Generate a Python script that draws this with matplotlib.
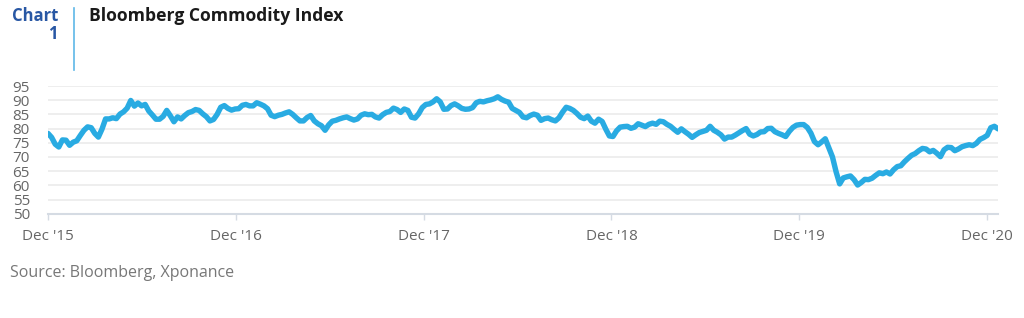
import numpy as np
import pandas as pd
import matplotlib
matplotlib.use("Agg")
import matplotlib.pyplot as plt
import matplotlib.dates as mdates

# weekly index levels, starting end of Dec 2015
start_date = "2015-12-31"
values_2016 = [78.3, 76.9, 74.5, 73.5, 76.0, 75.9, 74.1, 75.2, 75.7, 77.6,
               79.4, 80.6, 80.3, 78.3, 77.0, 79.8, 83.4, 83.4, 83.8, 83.5,
               85.1, 85.9, 87.2, 89.9, 87.9, 89.0, 88.0, 88.5, 86.2, 84.8,
               83.3, 83.3, 84.3, 86.4, 84.5, 82.4, 84.1, 83.4, 84.6, 85.6,
               86.0, 86.7, 86.4, 85.2, 84.2, 82.7, 83.2, 85.0, 87.5, 88.1,
               87.1, 86.5]
values_2017 = [86.9, 87.0, 88.2, 88.5, 88.0, 88.0, 89.1, 88.6, 88.0, 87.0,
               84.7, 84.2, 84.7, 85.0, 85.5, 85.9, 85.0, 83.8, 82.7, 82.7,
               83.9, 84.6, 82.7, 81.7, 81.0, 79.4, 81.3, 82.6, 82.9, 83.4,
               83.8, 84.1, 83.5, 83.0, 83.4, 84.7, 85.2, 84.9, 85.0, 84.1,
               83.7, 84.9, 85.7, 86.0, 87.2, 86.7, 85.7, 86.9, 86.4, 84.0,
               83.7, 85.2]
values_2018 = [87.4, 88.5, 88.7, 89.4, 90.5, 89.4, 86.8, 86.9, 88.1, 88.7,
               88.0, 87.1, 86.8, 86.9, 87.4, 89.1, 89.6, 89.4, 89.8, 90.1,
               90.5, 91.2, 90.3, 89.7, 89.3, 87.1, 86.4, 85.7, 84.1, 83.8,
               84.6, 85.1, 84.7, 82.9, 83.5, 83.7, 83.1, 82.7, 83.8, 85.8,
               87.5, 87.1, 86.4, 85.3, 84.0, 83.5, 84.4, 82.6, 81.9, 83.3,
               82.5, 79.8, 77.4]
values_2019 = [77.2, 79.2, 80.5, 80.7, 80.8, 80.1, 80.5, 81.7, 81.2, 80.7,
               81.5, 81.9, 81.5, 82.6, 82.4, 81.5, 80.8, 79.7, 78.7, 79.9,
               78.9, 78.0, 76.9, 77.8, 78.6, 79.0, 79.4, 80.8, 79.4, 78.7,
               77.8, 76.3, 77.0, 77.0, 77.7, 78.5, 79.3, 80.0, 78.0, 77.4,
               77.9, 78.8, 78.9, 80.0, 80.1, 78.9, 78.3, 77.8, 77.2, 79.0,
               80.4, 81.2]
values_2020 = [81.4, 81.4, 80.4, 78.4, 75.4, 74.3, 75.3, 76.4, 73.2, 70.0,
               64.8, 60.5, 62.6, 63.0, 63.3, 62.0, 60.1, 61.0, 62.1, 62.0,
               62.5, 63.5, 64.4, 64.1, 64.7, 64.0, 65.5, 66.6, 66.9, 68.3,
               69.5, 70.6, 71.2, 72.2, 73.0, 72.8, 71.8, 72.3, 71.3, 70.1,
               72.5, 73.4, 73.3, 72.2, 72.8, 73.6, 74.0, 74.3, 74.0, 74.8,
               76.2, 76.8, 77.6, 80.3, 80.8, 79.9]

values = values_2016 + values_2017 + values_2018 + values_2019 + values_2020
dates = pd.date_range(start_date, periods=len(values), freq="7D")

tick_dates = pd.to_datetime(["2015-12-31", "2016-12-31", "2017-12-31",
                             "2018-12-31", "2019-12-31", "2020-12-31"])
tick_labels = ["Dec '15", "Dec '16", "Dec '17", "Dec '18", "Dec '19", "Dec '20"]
y_ticks = list(range(50, 96, 5))

plt.rcParams["font.family"] = ["Open Sans", "DejaVu Sans"]

W, H = 1024, 318
fig = plt.figure(figsize=(W / 100, H / 100), dpi=100)
ax = fig.add_axes([48 / W, 1 - 213.7 / H, (998 - 48) / W, (213.7 - 86) / H])

ax.plot(dates, values, color="#29abe2", lw=3.9, solid_joinstyle="round",
        solid_capstyle="round", zorder=3)

ax.set_ylim(50, 95)
ax.set_xlim(dates[0], dates[-1])
ax.set_yticks(y_ticks)
ax.set_xticks(tick_dates)
ax.set_xticklabels(tick_labels)
ax.grid(axis="y", color="#ebebeb", lw=1.2)
ax.set_axisbelow(True)
for s in ["top", "right", "left"]:
    ax.spines[s].set_visible(False)
ax.spines["bottom"].set_color("#d5dbe3")
ax.spines["bottom"].set_linewidth(1.5)
ax.tick_params(axis="y", length=0, pad=13, labelsize=11, labelcolor="#666666")
ax.tick_params(axis="x", length=4, width=1, color="#d5dbe3", pad=7,
               labelsize=11, labelcolor="#666666")

def px(x, y):
    return x / W, 1 - y / H

fig.text(*px(58, 16), "Chart", color="#2857a4", fontsize=12, fontweight="bold",
         ha="right", va="center")
fig.text(*px(58, 34), "1", color="#2857a4", fontsize=12, fontweight="bold",
         ha="right", va="center")
fig.add_artist(plt.Line2D([74 / W, 74 / W], [1 - 8 / H, 1 - 70 / H],
                          color="#5db7e8", lw=1.2))
fig.text(*px(89, 16), "Bloomberg Commodity Index", color="#1a1a1a",
         fontsize=12.6, fontweight="bold", ha="left", va="center")
fig.text(*px(10, 273), "Source: Bloomberg, Xponance", color="#777777",
         fontsize=11.5, ha="left", va="center")

fig.savefig("out.png", dpi=100)
